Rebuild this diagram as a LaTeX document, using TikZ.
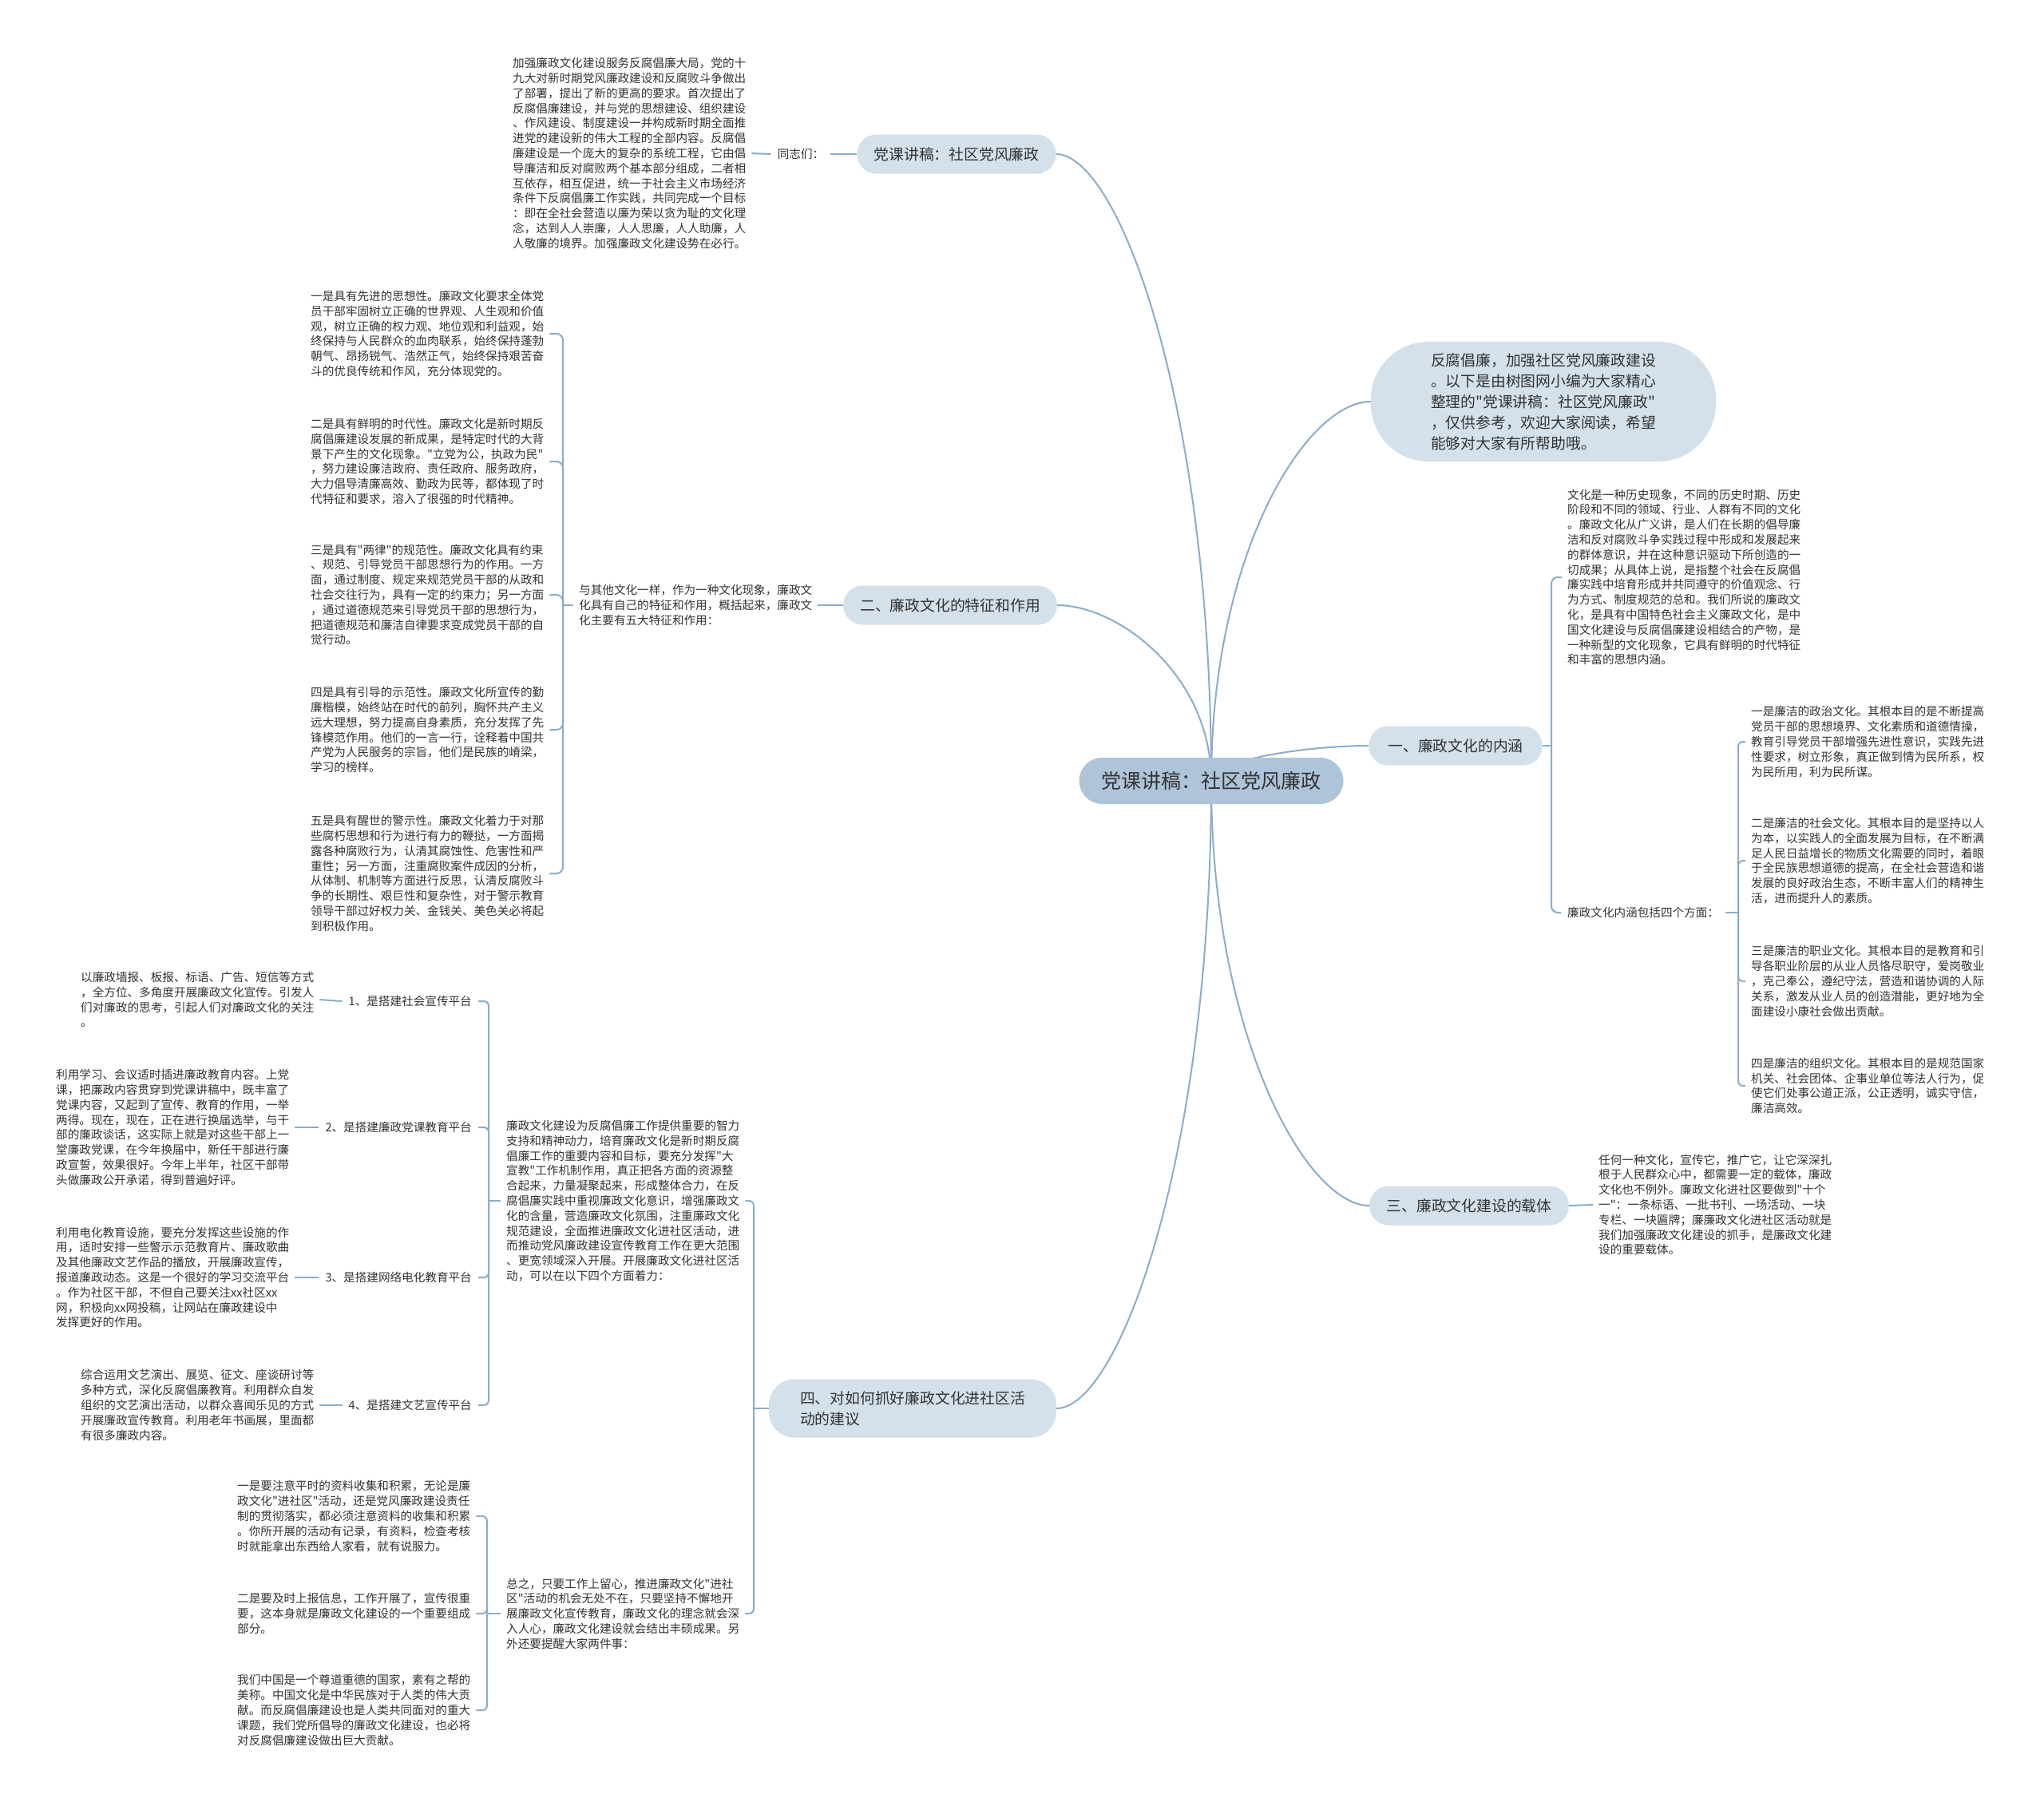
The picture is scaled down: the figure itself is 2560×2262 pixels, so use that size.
\documentclass[tikz,border=0pt]{standalone}
\usepackage{fontspec}
\setmainfont{Noto Sans CJK SC}[Ligatures=TeXOff]
\usetikzlibrary{backgrounds}
\definecolor{linec}{HTML}{8DACC8}
\definecolor{branchc}{HTML}{D4E0EA}
\definecolor{rootc}{HTML}{AEC4D8}
\definecolor{txtc}{HTML}{333333}
\tikzset{
  conn/.style={draw=linec, line width=2pt},
  txt/.style={font=\fontsize{14.6pt}{18.8pt}\selectfont, text=txtc, align=left, inner xsep=7pt, inner ysep=2pt},
  lbl/.style={font=\fontsize{14.6pt}{18.8pt}\selectfont, text=txtc, inner xsep=8pt, inner ysep=2pt},
  branch/.style={fill=branchc, rounded corners=24pt, font=\fontsize{18.8pt}{26pt}\selectfont, text=txtc, minimum height=49pt, inner xsep=21pt, align=left},
  rootn/.style={fill=rootc, rounded corners=29pt, font=\fontsize{25pt}{30pt}\selectfont, text=txtc, minimum height=58pt, inner xsep=28pt},
}
\begin{document}
\begin{tikzpicture}[x=1pt, y=-1pt]
\useasboundingbox (0,0) rectangle (2560,2262);

% ---------- root ----------
\node[rootn] (root) at (1517,978) {党课讲稿：社区党风廉政};

% ---------- branch 1 (top left) ----------
\node[branch] (b1) at (1198,193) {党课讲稿：社区党风廉政};
\node[lbl] (tz) at (1003,193) {同志们：};
\node[txt, anchor=west] (t0) at (635,192) {加强廉政文化建设服务反腐倡廉大局，党的十\\
九大对新时期党风廉政建设和反腐败斗争做出\\
了部署，提出了新的更高的要求。首次提出了\\
反腐倡廉建设，并与党的思想建设、组织建设\\
、作风建设、制度建设一并构成新时期全面推\\
进党的建设新的伟大工程的全部内容。反腐倡\\
廉建设是一个庞大的复杂的系统工程，它由倡\\
导廉洁和反对腐败两个基本部分组成，二者相\\
互依存，相互促进，统一于社会主义市场经济\\
条件下反腐倡廉工作实践，共同完成一个目标\\
：即在全社会营造以廉为荣以贪为耻的文化理\\
念，达到人人崇廉，人人思廉，人人助廉，人\\
人敬廉的境界。加强廉政文化建设势在必行。};

% ---------- branch 2 ----------
\node[branch] (b2) at (1190,758) {二、廉政文化的特征和作用};
\node[txt, anchor=west] (b2t) at (718,758) {与其他文化一样，作为一种文化现象，廉政文\\
化具有自己的特征和作用，概括起来，廉政文\\
化主要有五大特征和作用：};
\coordinate (j2) at (705,758);
\node[txt, anchor=west] (i1) at (382,418) {一是具有先进的思想性。廉政文化要求全体党\\
员干部牢固树立正确的世界观、人生观和价值\\
观，树立正确的权力观、地位观和利益观，始\\
终保持与人民群众的血肉联系，始终保持蓬勃\\
朝气、昂扬锐气、浩然正气，始终保持艰苦奋\\
斗的优良传统和作风，充分体现党的。};
\node[txt, anchor=west] (i2) at (382,578) {二是具有鲜明的时代性。廉政文化是新时期反\\
腐倡廉建设发展的新成果，是特定时代的大背\\
景下产生的文化现象。"立党为公，执政为民"\\
，努力建设廉洁政府、责任政府、服务政府，\\
大力倡导清廉高效、勤政为民等，都体现了时\\
代特征和要求，溶入了很强的时代精神。};
\node[txt, anchor=west] (i3) at (382,745) {三是具有"两律"的规范性。廉政文化具有约束\\
、规范、引导党员干部思想行为的作用。一方\\
面，通过制度、规定来规范党员干部的从政和\\
社会交往行为，具有一定的约束力；另一方面\\
，通过道德规范来引导党员干部的思想行为，\\
把道德规范和廉洁自律要求变成党员干部的自\\
觉行动。};
\node[txt, anchor=west] (i4) at (382,914) {四是具有引导的示范性。廉政文化所宣传的勤\\
廉楷模，始终站在时代的前列，胸怀共产主义\\
远大理想，努力提高自身素质，充分发挥了先\\
锋模范作用。他们的一言一行，诠释着中国共\\
产党为人民服务的宗旨，他们是民族的嵴梁，\\
学习的榜样。};
\node[txt, anchor=west] (i5) at (382,1094) {五是具有醒世的警示性。廉政文化着力于对那\\
些腐朽思想和行为进行有力的鞭挞，一方面揭\\
露各种腐败行为，认清其腐蚀性、危害性和严\\
重性；另一方面，注重腐败案件成因的分析，\\
从体制、机制等方面进行反思，认清反腐败斗\\
争的长期性、艰巨性和复杂性，对于警示教育\\
领导干部过好权力关、金钱关、美色关必将起\\
到积极作用。};

% ---------- branch 3 (intro) ----------
\node[branch, rounded corners=72pt, minimum height=150pt, inner xsep=75pt] (b3) at (1933,503) {反腐倡廉，加强社区党风廉政建设\\
。以下是由树图网小编为大家精心\\
整理的"党课讲稿：社区党风廉政"\\
，仅供参考，欢迎大家阅读，希望\\
能够对大家有所帮助哦。};

% ---------- branch 4 ----------
\node[branch, inner xsep=24pt] (b4) at (1823,934) {一、廉政文化的内涵};
\coordinate (j4) at (1943,934);
\node[txt, anchor=west] (b4t) at (1956,723) {文化是一种历史现象，不同的历史时期、历史\\
阶段和不同的领域、行业、人群有不同的文化\\
。廉政文化从广义讲，是人们在长期的倡导廉\\
洁和反对腐败斗争实践过程中形成和发展起来\\
的群体意识，并在这种意识驱动下所创造的一\\
切成果；从具体上说，是指整个社会在反腐倡\\
廉实践中培育形成并共同遵守的价值观念、行\\
为方式、制度规范的总和。我们所说的廉政文\\
化，是具有中国特色社会主义廉政文化，是中\\
国文化建设与反腐倡廉建设相结合的产物，是\\
一种新型的文化现象，它具有鲜明的时代特征\\
和丰富的思想内涵。};
\node[lbl, anchor=west] (lab4) at (1955,1143) {廉政文化内涵包括四个方面：};
\coordinate (j5) at (2177,1143);
\node[txt, anchor=west] (r1) at (2186,929) {一是廉洁的政治文化。其根本目的是不断提高\\
党员干部的思想境界、文化素质和道德情操，\\
教育引导党员干部增强先进性意识，实践先进\\
性要求，树立形象，真正做到情为民所系，权\\
为民所用，利为民所谋。};
\node[txt, anchor=west] (r2) at (2186,1078) {二是廉洁的社会文化。其根本目的是坚持以人\\
为本，以实践人的全面发展为目标，在不断满\\
足人民日益增长的物质文化需要的同时，着眼\\
于全民族思想道德的提高，在全社会营造和谐\\
发展的良好政治生态，不断丰富人们的精神生\\
活，进而提升人的素质。};
\node[txt, anchor=west] (r3) at (2186,1229) {三是廉洁的职业文化。其根本目的是教育和引\\
导各职业阶层的从业人员恪尽职守，爱岗敬业\\
，克己奉公，遵纪守法，营造和谐协调的人际\\
关系，激发从业人员的创造潜能，更好地为全\\
面建设小康社会做出贡献。};
\node[txt, anchor=west] (r4) at (2186,1360) {四是廉洁的组织文化。其根本目的是规范国家\\
机关、社会团体、企事业单位等法人行为，促\\
使它们处事公道正派，公正透明，诚实守信，\\
廉洁高效。};

% ---------- branch 5 ----------
\node[branch, inner xsep=21.5pt] (b5) at (1840,1510) {三、廉政文化建设的载体};
\node[txt, anchor=west] (b5t) at (1995,1509) {任何一种文化，宣传它，推广它，让它深深扎\\
根于人民群众心中，都需要一定的载体，廉政\\
文化也不例外。廉政文化进社区要做到"十个\\
一"：一条标语、一批书刊、一场活动、一块\\
专栏、一块匾牌；廉廉政文化进社区活动就是\\
我们加强廉政文化建设的抓手，是廉政文化建\\
设的重要载体。};

% ---------- branch 6 ----------
\node[branch, rounded corners=32pt, minimum height=73pt, inner xsep=39pt] (b6) at (1143,1764) {四、对如何抓好廉政文化进社区活\\
动的建议};
\coordinate (j6) at (944,1764);
\node[txt, anchor=west] (c1) at (627,1504) {廉政文化建设为反腐倡廉工作提供重要的智力\\
支持和精神动力，培育廉政文化是新时期反腐\\
倡廉工作的重要内容和目标，要充分发挥"大\\
宣教"工作机制作用，真正把各方面的资源整\\
合起来，力量凝聚起来，形成整体合力，在反\\
腐倡廉实践中重视廉政文化意识，增强廉政文\\
化的含量，营造廉政文化氛围，注重廉政文化\\
规范建设，全面推进廉政文化进社区活动，进\\
而推动党风廉政建设宣传教育工作在更大范围\\
、更宽领域深入开展。开展廉政文化进社区活\\
动，可以在以下四个方面着力：};
\coordinate (jc1) at (612,1504);
\node[lbl, anchor=east] (l1) at (599,1254) {1、是搭建社会宣传平台};
\node[lbl, anchor=east] (l2) at (599,1412) {2、是搭建廉政党课教育平台};
\node[lbl, anchor=east] (l3) at (599,1600) {3、是搭建网络电化教育平台};
\node[lbl, anchor=east] (l4) at (599,1760) {4、是搭建文艺宣传平台};
\node[txt, anchor=west] (s1) at (94,1252) {以廉政墙报、板报、标语、广告、短信等方式\\
，全方位、多角度开展廉政文化宣传。引发人\\
们对廉政的思考，引起人们对廉政文化的关注\\
。};
\node[txt, anchor=west] (s2) at (63,1412) {利用学习、会议适时插进廉政教育内容。上党\\
课，把廉政内容贯穿到党课讲稿中，既丰富了\\
党课内容，又起到了宣传、教育的作用，一举\\
两得。现在，现在，正在进行换届选举，与干\\
部的廉政谈话，这实际上就是对这些干部上一\\
堂廉政党课，在今年换届中，新任干部进行廉\\
政宣誓，效果很好。今年上半年，社区干部带\\
头做廉政公开承诺，得到普遍好评。};
\node[txt, anchor=west] (s3) at (63,1600) {利用电化教育设施，要充分发挥这些设施的作\\
用，适时安排一些警示示范教育片、廉政歌曲\\
及其他廉政文艺作品的播放，开展廉政宣传，\\
报道廉政动态。这是一个很好的学习交流平台\\
。作为社区干部，不但自己要关注xx社区xx\\
网，积极向xx网投稿，让网站在廉政建设中\\
发挥更好的作用。};
\node[txt, anchor=west] (s4) at (94,1760) {综合运用文艺演出、展览、征文、座谈研讨等\\
多种方式，深化反腐倡廉教育。利用群众自发\\
组织的文艺演出活动，以群众喜闻乐见的方式\\
开展廉政宣传教育。利用老年书画展，里面都\\
有很多廉政内容。};
\node[txt, anchor=west] (c2) at (627,2021) {总之，只要工作上留心，推进廉政文化"进社\\
区"活动的机会无处不在，只要坚持不懈地开\\
展廉政文化宣传教育，廉政文化的理念就会深\\
入人心，廉政文化建设就会结出丰硕成果。另\\
外还要提醒大家两件事：};
\coordinate (jc2) at (610,2021);
\node[txt, anchor=west] (d1) at (290,1899) {一是要注意平时的资料收集和积累，无论是廉\\
政文化"进社区"活动，还是党风廉政建设责任\\
制的贯彻落实，都必须注意资料的收集和积累\\
。你所开展的活动有记录，有资料，检查考核\\
时就能拿出东西给人家看，就有说服力。};
\node[txt, anchor=west] (d2) at (290,2021) {二是要及时上报信息，工作开展了，宣传很重\\
要，这本身就是廉政文化建设的一个重要组成\\
部分。};
\node[txt, anchor=west] (d3) at (290,2142) {我们中国是一个尊道重德的国家，素有之帮的\\
美称。中国文化是中华民族对于人类的伟大贡\\
献。而反腐倡廉建设也是人类共同面对的重大\\
课题，我们党所倡导的廉政文化建设，也必将\\
对反腐倡廉建设做出巨大贡献。};

% ---------- connectors ----------
\begin{scope}[on background layer]
\fill[white] (0,0) rectangle (2560,2262);
% root curves
\draw[conn] (root.center) .. controls (1517,507) and (1401,193) .. (b1.east);
\draw[conn] (root.center) .. controls (1517,846) and (1401,758) .. (b2.east);
\draw[conn] (root.center) .. controls (1517,1450) and (1401,1764) .. (b6.east);
\draw[conn] (root.center) .. controls (1517,693) and (1636,503) .. (b3.west);
\draw[conn] (root.center) .. controls (1517,952) and (1636,934) .. (b4.west);
\draw[conn] (root.center) .. controls (1517,1297) and (1636,1510) .. (b5.west);
% branch 1
\draw[conn] (b1.west) -- (tz.east);
\draw[conn] (tz.west) -- (t0.east);
% branch 2
\draw[conn] (b2.west) -- (b2t.east);
\draw[conn] (b2t.west) -- (j2);
\foreach \c in {i1,i2,i3,i4,i5}
  \draw[conn, rounded corners=8pt] (j2) |- (\c.east);
% branch 4
\draw[conn] (b4.east) -- (j4);
\draw[conn, rounded corners=8pt] (j4) |- (b4t.west);
\draw[conn, rounded corners=8pt] (j4) |- (lab4.west);
\draw[conn] (lab4.east) -- (j5);
\foreach \c in {r1,r2,r3,r4}
  \draw[conn, rounded corners=6pt] (j5) |- (\c.west);
% branch 5
\draw[conn] (b5.east) -- (b5t.west);
% branch 6
\draw[conn] (b6.west) -- (j6);
\draw[conn, rounded corners=6pt] (j6) |- (c1.east);
\draw[conn, rounded corners=6pt] (j6) |- (c2.east);
\draw[conn] (c1.west) -- (jc1);
\foreach \c in {l1,l2,l3,l4}
  \draw[conn, rounded corners=6pt] (jc1) |- (\c.east);
\draw[conn] (l1.west) -- (s1.east);
\draw[conn] (l2.west) -- (s2.east);
\draw[conn] (l3.west) -- (s3.east);
\draw[conn] (l4.west) -- (s4.east);
\draw[conn] (c2.west) -- (jc2);
\foreach \c in {d1,d2,d3}
  \draw[conn, rounded corners=6pt] (jc2) |- (\c.east);
\end{scope}
\end{tikzpicture}
\end{document}
